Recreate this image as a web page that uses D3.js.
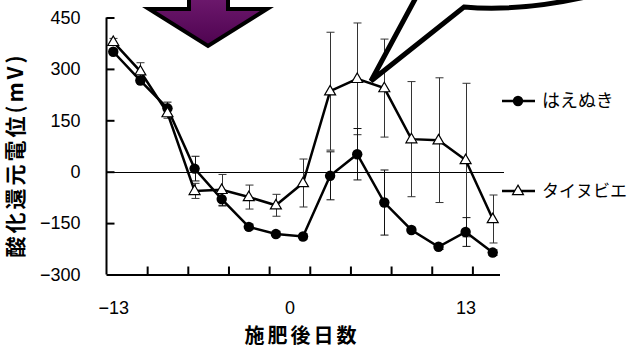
<!DOCTYPE html>
<html>
<head>
<meta charset="utf-8">
<script src="https://cdn.jsdelivr.net/npm/d3@7"></script>
<style>
  body { margin: 0; background: #fff; }
  svg { display: block; }
  .axis path, .axis line { stroke: #000; }
  .axis text { font-family: "Liberation Sans", Arial, sans-serif; font-size: 18px; fill: #000; }
</style>
</head>
<body>
<div id="canvas"></div>
<script>
// ---- DATA ----
var days = [-13, -11, -9, -7, -5, -3, -1, 1, 3, 5, 7, 9, 11, 13, 15];
var haenuki = [350, 266, 185, 9, -80, -161, -182, -189, -12, 51, -90, -170, -219, -176, -236];
var haenukiErr = [8, 8, 18, 36, 20, 8, 8, 8, 70, 75, 95, 8, 8, 42, 8];
var taiheubie = [379, 293, 171, -56, -53, -74, -98, -33, 235, 271, 244, 95, 92, 34, -138];
var taiheubieErr = [10, 25, 15, 22, 45, 35, 32, 70, 172, 163, 143, 168, 182, 224, 70];
var yTicks = [-300, -150, 0, 150, 300, 450];
var xLabels = [-13, 0, 13];
var xTickMarks = [-10.5, -7.5, -4.5, -1.5, 1.5, 4.5, 7.5, 10.5, 13.5];
var seriesNames = ['はえぬき', 'タイヌビエ'];

// ---- CONVENTIONS ----
var outerWidth = 628, outerHeight = 349;

var svg = d3.select('#canvas')
    .append('svg')
    .attr('width', outerWidth)
    .attr('height', outerHeight);

svg.append('rect').attr('width', outerWidth).attr('height', outerHeight).attr('fill', '#fff');

// ---- SCALES ----
var scaleX = d3.scaleLinear()
    .domain([-13.5, 15.5])
    .range([106.5, 499.5]);

var scaleY = d3.scaleLinear()
    .domain([-300, 450])
    .range([274.5, 17.5]);

// ---- AXES ----
var axisY = d3.axisLeft(scaleY)
    .tickValues(yTicks)
    .tickSize(-8)
    .tickPadding(26)
    .tickFormat(d3.format('d'));

var axisXTicks = d3.axisBottom(scaleX)
    .tickValues(xTickMarks)
    .tickSizeInner(-8)
    .tickSizeOuter(0)
    .tickFormat('');

var axisXLabels = d3.axisBottom(scaleX)
    .tickValues(xLabels)
    .tickSize(0)
    .tickPadding(27)
    .tickFormat(d3.format('d'));

// zero line
svg.append('line')
    .attr('x1', scaleX(-13.5)).attr('x2', 504)
    .attr('y1', Math.round(scaleY(0)) + 0.5).attr('y2', Math.round(scaleY(0)) + 0.5)
    .attr('stroke', '#000').attr('stroke-width', 1);

var gy = svg.append('g').attr('class', 'axis axis-y')
    .attr('transform', 'translate(' + scaleX(-13.5) + ',0)')
    .call(axisY);
gy.select('.domain').attr('stroke-width', 2).attr('d', 'M0,' + scaleY(450) + 'V' + scaleY(-300));
gy.selectAll('.tick line').attr('stroke-width', 2);

var gx = svg.append('g').attr('class', 'axis axis-x')
    .attr('transform', 'translate(0,' + scaleY(-300) + ')')
    .call(axisXTicks);
gx.select('.domain').attr('stroke-width', 2);
gx.selectAll('.tick line').attr('stroke-width', 2);

var gxl = svg.append('g').attr('class', 'axis axis-x-labels')
    .attr('transform', 'translate(0,' + scaleY(-300) + ')')
    .call(axisXLabels);
gxl.select('.domain').remove();

// ---- SERIES ----
function rows(vals, errs) {
    return days.map(function(d, i) { return { day: d, value: vals[i], err: errs[i] }; });
}
var dataH = rows(haenuki, haenukiErr);
var dataT = rows(taiheubie, taiheubieErr);

var lineGenerator = d3.line()
    .x(function(d) { return scaleX(d.day); })
    .y(function(d) { return scaleY(d.value); });

function drawErrors(data, color) {
    var g = svg.append('g').attr('stroke', color).attr('stroke-width', 1);
    data.forEach(function(d) {
        var x = Math.round(scaleX(d.day)) + 0.5;
        var y1 = scaleY(d.value + d.err), y2 = scaleY(d.value - d.err);
        g.append('line').attr('x1', x).attr('x2', x).attr('y1', y1).attr('y2', y2);
        g.append('line').attr('x1', x - 4).attr('x2', x + 4).attr('y1', y1).attr('y2', y1);
        g.append('line').attr('x1', x - 4).attr('x2', x + 4).attr('y1', y2).attr('y2', y2);
    });
}

drawErrors(dataT, '#333');
drawErrors(dataH, '#111');

var triangle = d3.symbol().type(d3.symbolTriangle).size(52);

function drawSeries(data, marker) {
    svg.append('path')
        .datum(data)
        .attr('d', lineGenerator)
        .attr('fill', 'none')
        .attr('stroke', '#000')
        .attr('stroke-width', 2.5);
    if (marker === 'circle') {
        svg.append('g').selectAll('circle')
            .data(data).enter().append('circle')
            .attr('cx', function(d) { return scaleX(d.day); })
            .attr('cy', function(d) { return scaleY(d.value); })
            .attr('r', 5.2)
            .attr('fill', '#000');
    } else {
        svg.append('g').selectAll('path')
            .data(data).enter().append('path')
            .attr('d', triangle)
            .attr('transform', function(d) { return 'translate(' + scaleX(d.day) + ',' + (scaleY(d.value) + 0.5) + ')'; })
            .attr('fill', '#fff')
            .attr('stroke', '#000')
            .attr('stroke-width', 1.2);
    }
}

drawSeries(dataH, 'circle');
drawSeries(dataT, 'triangle');

// ---- LEGEND ----
var legend = [
    { name: seriesNames[0], y: 101, marker: 'circle' },
    { name: seriesNames[1], y: 191, marker: 'triangle' }
];
legend.forEach(function(l) {
    svg.append('line')
        .attr('x1', 502).attr('x2', 535)
        .attr('y1', l.y).attr('y2', l.y)
        .attr('stroke', '#000').attr('stroke-width', 2.5);
    if (l.marker === 'circle') {
        svg.append('circle').attr('cx', 518).attr('cy', l.y).attr('r', 5.2).attr('fill', '#000');
    } else {
        svg.append('path').attr('d', triangle)
            .attr('transform', 'translate(518,' + (l.y + 0.5) + ')')
            .attr('fill', '#fff').attr('stroke', '#000').attr('stroke-width', 1.2);
    }
    svg.append('text')
        .attr('x', 542).attr('y', l.y)
        .attr('dy', '0.36em')
        .style('font-family', '"Noto Sans CJK JP", sans-serif')
        .style('font-size', l.marker === 'circle' ? '18px' : '17px')
        .text(l.name);
});

// ---- TITLES ----
svg.append('text')
    .attr('transform', 'translate(23,155) rotate(-90)')
    .attr('text-anchor', 'middle')
    .style('font-family', '"Noto Sans CJK JP", sans-serif')
    .style('font-weight', 'bold')
    .style('font-size', '21px')
    .style('letter-spacing', '3px')
    .text('酸化還元電位(mV)');

svg.append('text')
    .attr('x', 302).attr('y', 343)
    .attr('text-anchor', 'middle')
    .style('font-family', '"Noto Sans CJK JP", sans-serif')
    .style('font-weight', 'bold')
    .style('font-size', '20px')
    .style('letter-spacing', '3px')
    .text('施肥後日数');

// ---- DECORATIONS ----
var defs = svg.append('defs');
var grad = defs.append('linearGradient').attr('id', 'purple')
    .attr('x1', 0).attr('y1', 0).attr('x2', 0).attr('y2', 1);
grad.append('stop').attr('offset', '0%').attr('stop-color', '#6f1a6f');
grad.append('stop').attr('offset', '100%').attr('stop-color', '#4e0350');

svg.append('path')
    .attr('d', 'M189,-6 L189,9 L149,9 L208,46 L267,9 L228,9 L228,-6 Z')
    .attr('fill', 'url(#purple)')
    .attr('stroke', '#000')
    .attr('stroke-width', 4)
    .attr('stroke-linejoin', 'miter');

svg.append('path')
    .attr('d', 'M420,-10 L371,81 L464,7 Q520,12 590,-4 L600,-20 L410,-20 Z')
    .attr('fill', '#fff')
    .attr('stroke', '#000')
    .attr('stroke-width', 5)
    .attr('stroke-linejoin', 'miter');
</script>
</body>
</html>
